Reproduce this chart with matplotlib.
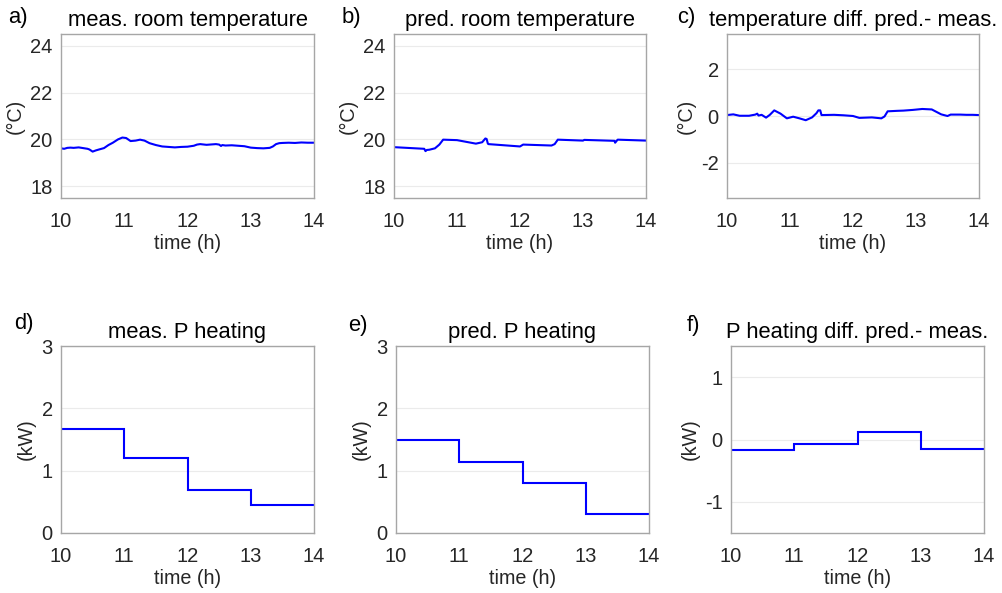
import matplotlib
matplotlib.use("Agg")
import matplotlib.pyplot as plt

plt.rcParams["font.family"] = ["Liberation Sans", "DejaVu Sans"]
plt.rcParams["axes.unicode_minus"] = False

# measured room temperature (°C)
t_meas = [10.0, 10.05, 10.1, 10.15, 10.2, 10.28, 10.35, 10.42, 10.45, 10.5, 10.55, 10.6, 10.68,
          10.75, 10.82, 10.9, 10.97, 11.03, 11.1, 11.18, 11.25, 11.32, 11.4, 11.5, 11.6, 11.7,
          11.8, 11.9, 12.0, 12.1, 12.15, 12.2, 12.3, 12.4, 12.45, 12.5, 12.53, 12.55, 12.6, 12.7,
          12.8, 12.9, 13.0, 13.1, 13.2, 13.3, 13.35, 13.4, 13.45, 13.5, 13.6, 13.7, 13.8, 13.9,
          14.0]
T_meas = [19.62, 19.6, 19.64, 19.65, 19.64, 19.66, 19.63, 19.6, 19.57, 19.48, 19.53, 19.57, 19.63,
          19.76, 19.86, 20.0, 20.08, 20.06, 19.93, 19.95, 19.99, 19.95, 19.84, 19.76, 19.7, 19.68,
          19.66, 19.68, 19.69, 19.73, 19.78, 19.8, 19.77, 19.79, 19.8, 19.78, 19.72, 19.76, 19.74,
          19.75, 19.73, 19.71, 19.65, 19.63, 19.62, 19.64, 19.7, 19.8, 19.84, 19.85, 19.86,
          19.85, 19.87, 19.86, 19.86]

# predicted room temperature (°C)
t_pred = [10.0, 10.48, 10.5, 10.52, 10.56, 10.65, 10.72, 10.78, 11.0, 11.3, 11.4, 11.45, 11.47,
          11.49, 11.5, 12.0, 12.05, 12.5, 12.55, 12.6, 13.0, 13.02, 13.5, 13.51, 13.55, 14.0]
T_pred = [19.67, 19.6, 19.5, 19.55, 19.56, 19.62, 19.78, 19.99, 19.97, 19.82, 19.88, 20.04, 20.02,
          19.82, 19.8, 19.7, 19.78, 19.74, 19.8, 19.99, 19.95, 19.98, 19.94, 19.86, 19.99, 19.95]

# temperature difference pred. - meas. (°C)
t_dT = [10.0, 10.1, 10.2, 10.35, 10.45, 10.48, 10.5, 10.55, 10.62, 10.68, 10.75, 10.85, 10.95,
        11.05, 11.15, 11.25, 11.35, 11.42, 11.45, 11.48, 11.5, 11.7, 11.85, 12.0, 12.1, 12.3,
        12.45, 12.5, 12.55, 12.7, 12.8, 12.95, 13.1, 13.25, 13.4, 13.5, 13.55, 13.7, 13.8,
        13.9, 14.0]
dT = [0.04, 0.07, 0.01, 0.01, 0.06, 0.1, 0.02, 0.05, -0.07, 0.05, 0.24, 0.1, -0.1,
      -0.03, -0.1, -0.18, -0.06, 0.12, 0.24, 0.24, 0.04, 0.05, 0.03, 0.0, -0.08, -0.06,
      -0.1, -0.02, 0.2, 0.22, 0.23, 0.26, 0.3, 0.28, 0.07, 0.0, 0.06, 0.06, 0.05, 0.05, 0.04]

# hourly heating power (kW)
hours = [10, 11, 12, 13, 14]
P_meas = [1.67, 1.21, 0.685, 0.455]
P_pred = [1.50, 1.14, 0.80, 0.31]
P_diff = [p - m for p, m in zip(P_pred, P_meas)]

fig = plt.figure(figsize=(10.02, 5.93), dpi=100)
W, H = 1002, 593


def place(x0, x1, y0, y1):
    return fig.add_axes([x0 / W, 1 - y1 / H, (x1 - x0) / W, (y1 - y0) / H])


BLUE = "#0000ff"
TXT = "#262626"


def style(ax, ylim, yticks, ylabel, title, letter, lx, ly):
    ax.set_xlim(10, 14)
    ax.set_xticks([10, 11, 12, 13, 14])
    ax.set_ylim(*ylim)
    ax.set_yticks(yticks)
    ax.grid(axis="y", color="#ebebeb", linewidth=0.8)
    ax.set_axisbelow(True)
    for s in ax.spines.values():
        s.set_color("#a6a6a6")
        s.set_linewidth(1.0)
    ax.tick_params(axis="both", length=0, labelsize=14.5, colors=TXT)
    ax.tick_params(axis="x", pad=10)
    ax.tick_params(axis="y", pad=6)
    ax.set_xlabel("time (h)", fontsize=14.2, color=TXT, labelpad=2)
    ax.set_ylabel(ylabel, fontsize=14.2, color=TXT, labelpad=4)
    ax.set_title(title, fontsize=15.8, color="black", pad=6)
    fig.text(lx / W, 1 - ly / H, letter, fontsize=15.8, color="black", ha="left", va="center")


ax_a = place(61, 314, 34, 198)
ax_a.plot(t_meas, T_meas, color=BLUE, lw=1.5)
style(ax_a, (17.5, 24.5), [18, 20, 22, 24], "(°C)", "meas. room temperature", "a)", 8, 18)

ax_b = place(394, 646, 34, 198)
ax_b.plot(t_pred, T_pred, color=BLUE, lw=1.5)
style(ax_b, (17.5, 24.5), [18, 20, 22, 24], "(°C)", "pred. room temperature", "b)", 342, 18)

ax_c = place(727, 979, 34, 198)
ax_c.plot(t_dT, dT, color=BLUE, lw=1.5)
style(ax_c, (-3.5, 3.5), [-2, 0, 2], "(°C)", "temperature diff. pred.- meas.", "c)", 677, 18)

ax_d = place(61, 314, 346, 533)
ax_d.stairs(P_meas, hours, color=BLUE, lw=1.5, baseline=None)
style(ax_d, (0, 3), [0, 1, 2, 3], "(kW)", "meas. P heating", "d)", 14, 323)

ax_e = place(396, 649, 346, 533)
ax_e.stairs(P_pred, hours, color=BLUE, lw=1.5, baseline=None)
style(ax_e, (0, 3), [0, 1, 2, 3], "(kW)", "pred. P heating", "e)", 348, 325)

ax_f = place(731, 984, 346, 533)
ax_f.stairs(P_diff, hours, color=BLUE, lw=1.5, baseline=None)
style(ax_f, (-1.5, 1.5), [-1, 0, 1], "(kW)", "P heating diff. pred.- meas.", "f)", 687, 325)

fig.savefig("out.png", dpi=100, facecolor="white")
